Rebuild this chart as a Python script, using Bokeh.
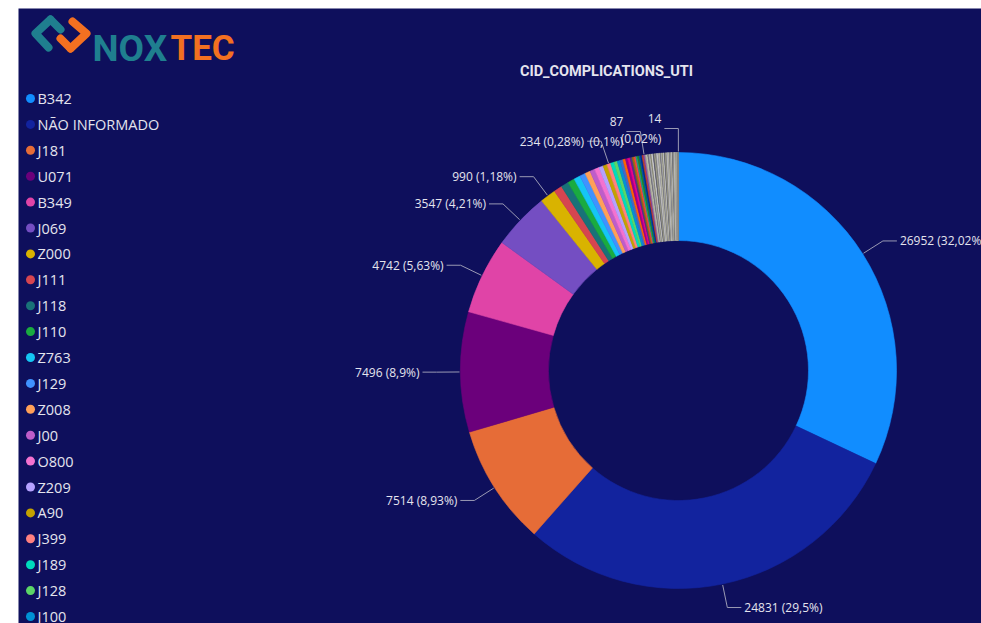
import math
from bokeh.plotting import figure
from bokeh.models import Range1d, ColumnDataSource
from bokeh.core.properties import value
from bokeh.embed import file_html
from bokeh.resources import INLINE

# ---------------- data ----------------
title = "CID_COMPLICATIONS_UTI"
categories = ["B342", "NÃO INFORMADO", "J181", "U071", "B349", "J069", "Z000",
              "J111", "J118", "J110", "Z763", "J129", "Z008", "J00", "O800",
              "Z209", "A90", "J399", "J189", "J128", "J100"]
values = [26952, 24831, 7514, 7496, 4742, 3547, 990,
          520, 470, 430, 400, 360, 330, 310, 290,
          270, 250, 234, 220, 205, 190]
# further (smaller) categories, below the visible part of the legend
more_values = [175, 160, 150, 140, 130, 120, 110, 105, 100, 95, 92, 89, 87,
               86, 85, 84, 83, 82, 80, 78, 76, 74, 72, 70, 68, 66, 64, 62, 60,
               58, 56, 54, 52, 50, 48, 48, 46, 44, 44, 42, 40, 38, 36, 34, 32,
               30, 28, 26, 24, 22, 20, 14]
extra_labelled = [234, 87, 14]

palette = ["#118DFF", "#12239E", "#E66C37", "#6B007B", "#E044A7", "#744EC2",
           "#D9B300", "#D64550", "#197278", "#1AAB40", "#15C6F4", "#4092FF",
           "#FFA058", "#BE5DC9", "#F472D0", "#B5A1FF", "#C4A200", "#FF8080",
           "#00DBBC", "#5BD667", "#0091D5", "#4668C5", "#FF6300", "#99008A",
           "#EC008C", "#533285", "#99700A", "#FF4141", "#1F9A85", "#25891C",
           "#0057A2", "#002B8F", "#C6431F", "#8F3E9E"]
tail_colors = ["#9c9c9c", "#c7c7ad", "#6e6e78", "#b3b3b3", "#8a8a70",
               "#d9d9d9", "#585866", "#a6a68c", "#7f7f7f", "#cfcfcf"]

# ---------------- layout ----------------
W, H = 981, 623
LEFT_PAD, TOP_PAD = 18, 8
FW, FH = W - LEFT_PAD, H - TOP_PAD
BG = "#0e0f5c"
TXT = "#e4e4ee"
LINE = "#9a9ab4"
CX, CY = 660, 253          # donut centre (frame pixels)
R_OUT, R_IN = 218, 130
EXT, HOR, GAP = 24, 14, 3

p = figure(width=W, height=H, output_backend="svg", toolbar_location=None,
           x_range=Range1d(0, FW), y_range=Range1d(0, FH),
           x_axis_location=None, y_axis_location=None,
           min_border_left=LEFT_PAD, min_border_right=0,
           min_border_top=TOP_PAD, min_border_bottom=0,
           background_fill_color=BG, border_fill_color="white",
           outline_line_color=None)
p.grid.visible = False

# ---------------- donut ----------------
all_vals = values + more_values
total = sum(all_vals)
colors = []
for i in range(len(all_vals)):
    if i < len(palette):
        colors.append(palette[i])
    else:
        colors.append(tail_colors[(i - len(palette)) % len(tail_colors)])

starts, ends = [], []
cum = 0
for v in all_vals:
    starts.append(math.pi / 2 - 2 * math.pi * cum / total)
    cum += v
    ends.append(math.pi / 2 - 2 * math.pi * cum / total)

src = ColumnDataSource(dict(start=starts, end=ends, color=colors))
p.annular_wedge(x=CX, y=CY, inner_radius=R_IN, outer_radius=R_OUT,
                inner_radius_units="screen", outer_radius_units="screen",
                start_angle="start", end_angle="end", direction="clock",
                fill_color="color", line_color="color", line_width=0.6,
                source=src)

# ---------------- data labels ----------------
def pct_text(v):
    s = f"{v / total * 100:.2f}".rstrip("0").rstrip(".")
    return s.replace(".", ",")

lx, ly, lt, la = [], [], [], []
seg_xs, seg_ys = [], []
for i, v in enumerate(all_vals):
    frac = v / total
    if not (frac >= 0.01 or (i >= 7 and v in extra_labelled)):
        continue
    mid = (starts[i] + ends[i]) / 2
    ux, uy = math.cos(mid), math.sin(mid)
    side = 1 if ux > 0 else -1
    x1, y1 = CX + (R_OUT + 1) * ux, CY + (R_OUT + 1) * uy
    x2, y2 = CX + (R_OUT + EXT) * ux, CY + (R_OUT + EXT) * uy
    x3 = x2 + side * HOR
    seg_xs.append([x1, x2, x3])
    seg_ys.append([y1, y2, y2])
    sep = "\n" if frac < 0.002 else " "
    lt.append(f"{v}{sep}({pct_text(v)}%)")
    lx.append(x3 + side * GAP)
    ly.append(y2)
    la.append("left" if side > 0 else "right")

p.multi_line(xs=seg_xs, ys=seg_ys, line_color=LINE, line_width=1)
p.text(x="x", y="y", text="t", text_align="a",
       source=ColumnDataSource(dict(x=lx, y=ly, t=lt, a=la)),
       text_font=value("Open Sans"), text_font_size="12px",
       text_color=TXT, text_baseline="middle", text_line_height=1.15)

# ---------------- title ----------------
p.text(x=[588], y=[552], text=[title], text_align="center",
       text_baseline="middle", text_font=value("Roboto"),
       text_font_size="14.5px", text_font_style="bold", text_color=TXT)

# ---------------- legend ----------------
LEG_X, LEG_Y0, LEG_DY = 12, 525, 25.9
leg_y = [LEG_Y0 - i * LEG_DY for i in range(len(categories))]
p.scatter(x=[LEG_X] * len(categories), y=leg_y, size=9,
          fill_color=palette[:len(categories)], line_color=None)
p.text(x=[LEG_X + 7] * len(categories), y=leg_y, text=categories,
       text_baseline="middle", text_font=value("Open Sans"),
       text_font_size="14.5px", text_color=TXT)

# ---------------- logo ----------------
TEAL, ORANGE = "#1f7f8f", "#f37021"
p.multi_line(xs=[[32, 17, 30], [32, 42]], ys=[[604, 590, 576], [604, 594]],
             line_color=TEAL, line_width=8, line_cap="round", line_join="round")
p.multi_line(xs=[[54, 68, 52], [52, 42]], ys=[[602, 590, 575], [575, 585]],
             line_color=ORANGE, line_width=8, line_cap="round", line_join="round")
p.text(x=[74], y=[575], text=["NOX"], text_baseline="alphabetic",
       text_font=value("Roboto"), text_font_size="37px",
       text_font_style="bold", text_color=TEAL)
p.text(x=[152], y=[575], text=["TEC"], text_baseline="alphabetic",
       text_font=value("Roboto"), text_font_size="35px",
       text_font_style="bold", text_color=ORANGE)

open("out.html", "w").write(file_html(p, INLINE))
